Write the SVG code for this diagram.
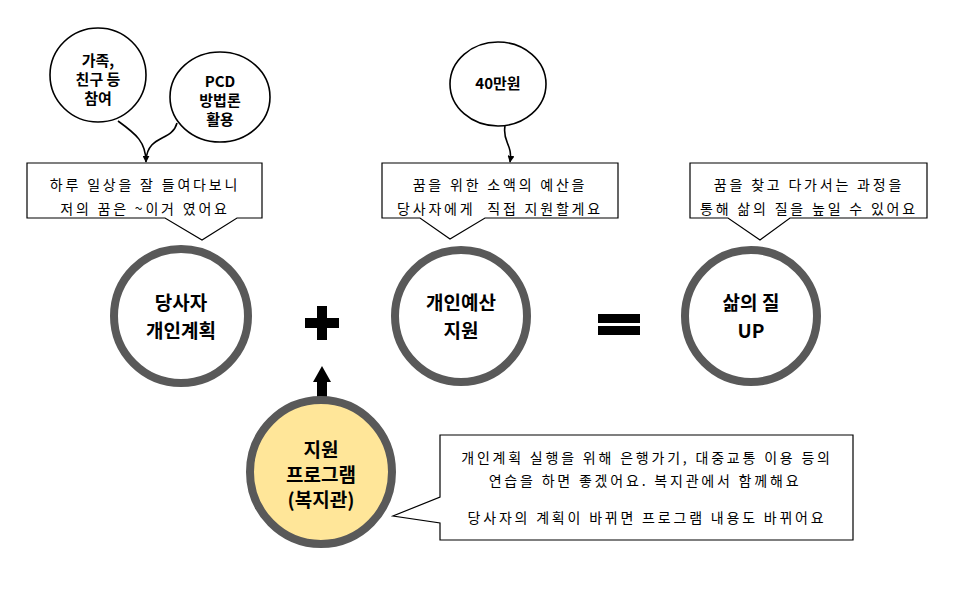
<svg xmlns="http://www.w3.org/2000/svg" width="960" height="600" viewBox="0 0 960 600">
<defs>
<style>
.bg{fill:#fff}
.small{fill:#fff;stroke:#000;stroke-width:1.6}
.big{fill:#fff;stroke:#595959;stroke-width:8}
.yellow{fill:#ffe699;stroke:#595959;stroke-width:8}
.box{fill:#fff;stroke:#000;stroke-width:1.2}
.t{font-family:"Noto Sans CJK KR","Liberation Sans",sans-serif;font-size:14px;fill:#000;text-anchor:middle;letter-spacing:2.8px}
.b{font-family:"Noto Sans CJK KR","Liberation Sans",sans-serif;font-weight:bold;fill:#000;text-anchor:middle}
.b14{font-size:15px}
.b18{font-size:19px}
.conn{fill:none;stroke:#000;stroke-width:1.6}
</style>
<marker id="ah" viewBox="0 0 10 10" refX="9" refY="5" markerWidth="7" markerHeight="7" orient="auto" markerUnits="userSpaceOnUse">
<path d="M0,0 L10,5 L0,10 z" fill="#000"/>
</marker>
</defs>
<rect class="bg" x="0" y="0" width="960" height="600"/>

<g id="connectors">
<path class="conn" d="M118,121 C136,134 146,142 146,162" marker-end="url(#ah)"/>
<path class="conn" d="M177,123 C172,142 148,134 146,160"/>
<path class="conn" d="M505,126 C502,142 513,144 510,162" marker-end="url(#ah)"/>
<path d="M317,403 L317,382 L313,382 L322,366 L331,382 L327,382 L327,403 z" fill="#000"/>
</g>

<g id="node-family">
<ellipse class="small" cx="98" cy="75" rx="48" ry="47"/>
<text class="b b14" x="98" y="66">가족,</text>
<text class="b b14" x="98" y="85">친구 등</text>
<text class="b b14" x="98" y="104">참여</text>
</g>

<g id="node-pcd">
<ellipse class="small" cx="220" cy="97" rx="50" ry="45"/>
<text class="b b14" x="220" y="87">PCD</text>
<text class="b b14" x="220" y="106">방법론</text>
<text class="b b14" x="220" y="125">활용</text>
</g>

<g id="node-budget-amount">
<ellipse class="small" cx="498" cy="84" rx="48" ry="42"/>
<text class="b b14" x="498" y="89">40만원</text>
</g>

<g id="callout-1">
<path class="box" d="M27,163 H262 V218 H237 L202,240 L165,218 H27 Z"/>
<text class="t" x="145" y="190">하루 일상을 잘 들여다보니</text>
<text class="t" x="145" y="214">저의 꿈은 ~이거 였어요</text>
</g>

<g id="callout-2">
<path class="box" d="M382,163 H618 V218 H485 L450,239 L420,218 H382 Z"/>
<text class="t" x="500" y="190">꿈을 위한 소액의 예산을</text>
<text class="t" x="500" y="214">당사자에게&#160; 직접 지원할게요</text>
</g>

<g id="callout-3">
<path class="box" d="M690,163 H927 V218 H790 L760,240 L728,218 H690 Z"/>
<text class="t" x="809" y="190">꿈을 찾고 다가서는 과정을</text>
<text class="t" x="809" y="214">통해 삶의 질을 높일 수 있어요</text>
</g>

<g id="node-plan">
<circle class="big" cx="181" cy="316" r="67"/>
<text class="b b18" x="181" y="310">당사자</text>
<text class="b b18" x="181" y="338">개인계획</text>
</g>

<g id="plus">
<rect x="305" y="318" width="34" height="10" fill="#000"/>
<rect x="317" y="306" width="10" height="34" fill="#000"/>
</g>

<g id="node-budget">
<circle class="big" cx="461" cy="316" r="66"/>
<text class="b b18" x="461" y="310">개인예산</text>
<text class="b b18" x="461" y="338">지원</text>
</g>

<g id="equals">
<rect x="598" y="314" width="42" height="9" fill="#000"/>
<rect x="598" y="326" width="42" height="9" fill="#000"/>
</g>

<g id="node-quality">
<circle class="big" cx="751" cy="316" r="66"/>
<text class="b b18" x="751" y="310">삶의 질</text>
<text class="b b18" x="751" y="338">UP</text>
</g>

<g id="node-program">
<ellipse class="yellow" cx="321" cy="472" rx="71" ry="72"/>
<text class="b b18" x="321" y="457">지원</text>
<text class="b b18" x="321" y="482">프로그램</text>
<text class="b b18" x="321" y="507">(복지관)</text>
</g>

<g id="callout-4">
<path class="box" d="M440,435 H853 V540 H440 V523 L393,516 L440,497 Z"/>
<text class="t" x="647" y="463">개인계획 실행을 위해 은행가기, 대중교통 이용 등의</text>
<text class="t" x="645" y="486">연습을 하면 좋겠어요. 복지관에서 함께해요</text>
<text class="t" x="647" y="523">당사자의 계획이 바뀌면 프로그램 내용도 바뀌어요</text>
</g>
</svg>
